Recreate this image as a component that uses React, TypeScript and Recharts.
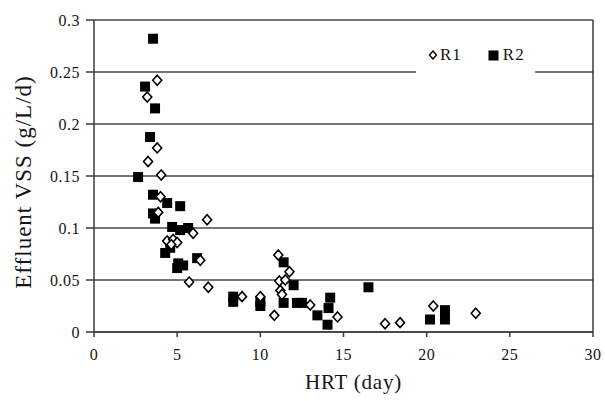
import React from 'react';
import { ScatterChart, Scatter, XAxis, YAxis, CartesianGrid, ReferenceLine, Legend } from 'recharts';

const r1X = [3.8, 3.2, 3.8, 3.25, 4.04, 4.0, 3.86, 6.8, 5.96, 4.4, 4.76, 5.0, 4.64, 6.39, 5.72, 6.87, 8.9, 10.0, 10.84, 11.08, 11.75, 11.14, 11.5, 11.2, 11.3, 13.0, 14.64, 17.5, 18.4, 20.4, 22.95];
const r1Y = [0.242, 0.226, 0.177, 0.164, 0.151, 0.13, 0.115, 0.108, 0.095, 0.0875, 0.089, 0.086, 0.084, 0.069, 0.048, 0.043, 0.034, 0.034, 0.016, 0.074, 0.058, 0.049, 0.05, 0.04, 0.036, 0.026, 0.0145, 0.008, 0.009, 0.025, 0.018];

const r2X = [3.55, 3.07, 3.67, 3.37, 2.65, 3.55, 4.4, 5.18, 3.55, 3.67, 4.7, 5.18, 5.66, 4.58, 4.28, 5.06, 5.0, 5.36, 6.2, 8.37, 8.37, 10.0, 10.0, 11.4, 12.0, 11.4, 12.2, 12.5, 13.43, 14.04, 14.1, 14.2, 16.5, 20.2, 21.1, 21.1];
const r2Y = [0.282, 0.236, 0.215, 0.1875, 0.149, 0.132, 0.124, 0.121, 0.114, 0.109, 0.101, 0.098, 0.1, 0.081, 0.076, 0.066, 0.0615, 0.064, 0.071, 0.034, 0.029, 0.029, 0.025, 0.067, 0.045, 0.028, 0.028, 0.028, 0.016, 0.007, 0.023, 0.033, 0.043, 0.012, 0.021, 0.012];

const xTicks = [0, 5, 10, 15, 20, 25, 30];
const yTicks = [0, 0.05, 0.1, 0.15, 0.2, 0.25, 0.3];
const seriesNames = ['R1', 'R2'];

const r1Data = r1X.map((x, i) => ({ x, y: r1Y[i] }));
const r2Data = r2X.map((x, i) => ({ x, y: r2Y[i] }));

const FONT = '"Liberation Serif", "Times New Roman", serif';
const AXIS = '#3a3a3a';
const TEXT = '#151515';

const Diamond = (props: any) => {
  const { cx, cy } = props;
  if (cx == null || cy == null) return null;
  return (
    <path
      d={`M${cx},${cy - 5} L${cx + 4.5},${cy} L${cx},${cy + 5} L${cx - 4.5},${cy} Z`}
      fill="#fff"
      stroke="#000"
      strokeWidth={1.6}
    />
  );
};

const Square = (props: any) => {
  const { cx, cy } = props;
  if (cx == null || cy == null) return null;
  return <rect x={cx - 5} y={cy - 5} width={10} height={10} fill="#000" />;
};

const LegendContent = () => (
  <div style={{ display: 'flex', alignItems: 'center', height: '100%', fontFamily: FONT, fontSize: 17, color: TEXT, letterSpacing: 1 }}>
    <svg width={10} height={10} style={{ marginLeft: 12 }}>
      <path d="M5,1 L8.5,5 L5,9 L1.5,5 Z" fill="#fff" stroke="#000" strokeWidth={1.4} />
    </svg>
    <span style={{ marginLeft: 2 }}>{seriesNames[0]}</span>
    <svg width={11} height={11} style={{ marginLeft: 26 }}>
      <rect x={0.5} y={0.5} width={10} height={10} fill="#000" />
    </svg>
    <span style={{ marginLeft: 4 }}>{seriesNames[1]}</span>
  </div>
);

export default function App() {
  return (
    <div style={{ position: 'absolute', left: 0, top: 0, width: 605, height: 401, background: '#fff' }}>
      <ScatterChart width={605} height={401} margin={{ top: 20, right: 12, bottom: 0, left: 0 }}>
        <CartesianGrid horizontal vertical={false} stroke="#4a4a4a" strokeWidth={1.5} />
        <XAxis
          type="number"
          dataKey="x"
          domain={[0, 30]}
          ticks={xTicks}
          height={69}
          tickSize={5}
          tickMargin={12}
          stroke={AXIS}
          strokeWidth={1.5}
          tick={{ fill: TEXT, fontSize: 16, fontFamily: FONT, letterSpacing: 0.5 }}
          label={{ value: 'HRT (day)', position: 'insideBottom', offset: 12, dx: 10, style: { fontFamily: FONT, fontSize: 21, fill: TEXT, letterSpacing: 0.8 } }}
        />
        <YAxis
          type="number"
          dataKey="y"
          domain={[0, 0.3]}
          ticks={yTicks}
          width={94}
          tickSize={8}
          tickMargin={6}
          stroke={AXIS}
          strokeWidth={1.5}
          tick={{ fill: TEXT, fontSize: 16, fontFamily: FONT, letterSpacing: 0.5 }}
          label={{ value: 'Effluent VSS (g/L/d)', angle: -90, position: 'center', dx: -24, dy: 6, style: { fontFamily: FONT, fontSize: 23, fill: TEXT, letterSpacing: 1, textAnchor: 'middle' } }}
        />
        <ReferenceLine x={30} stroke={AXIS} strokeWidth={1.5} />
        <Scatter name={seriesNames[1]} data={r2Data} shape={Square} isAnimationActive={false} />
        <Scatter name={seriesNames[0]} data={r1Data} shape={Diamond} isAnimationActive={false} />
        <Legend
          layout="vertical"
          align="center"
          verticalAlign="middle"
          content={<LegendContent />}
          wrapperStyle={{ position: 'absolute', left: 416, top: 34, width: 119, height: 42, background: '#fff' }}
        />
      </ScatterChart>
    </div>
  );
}
